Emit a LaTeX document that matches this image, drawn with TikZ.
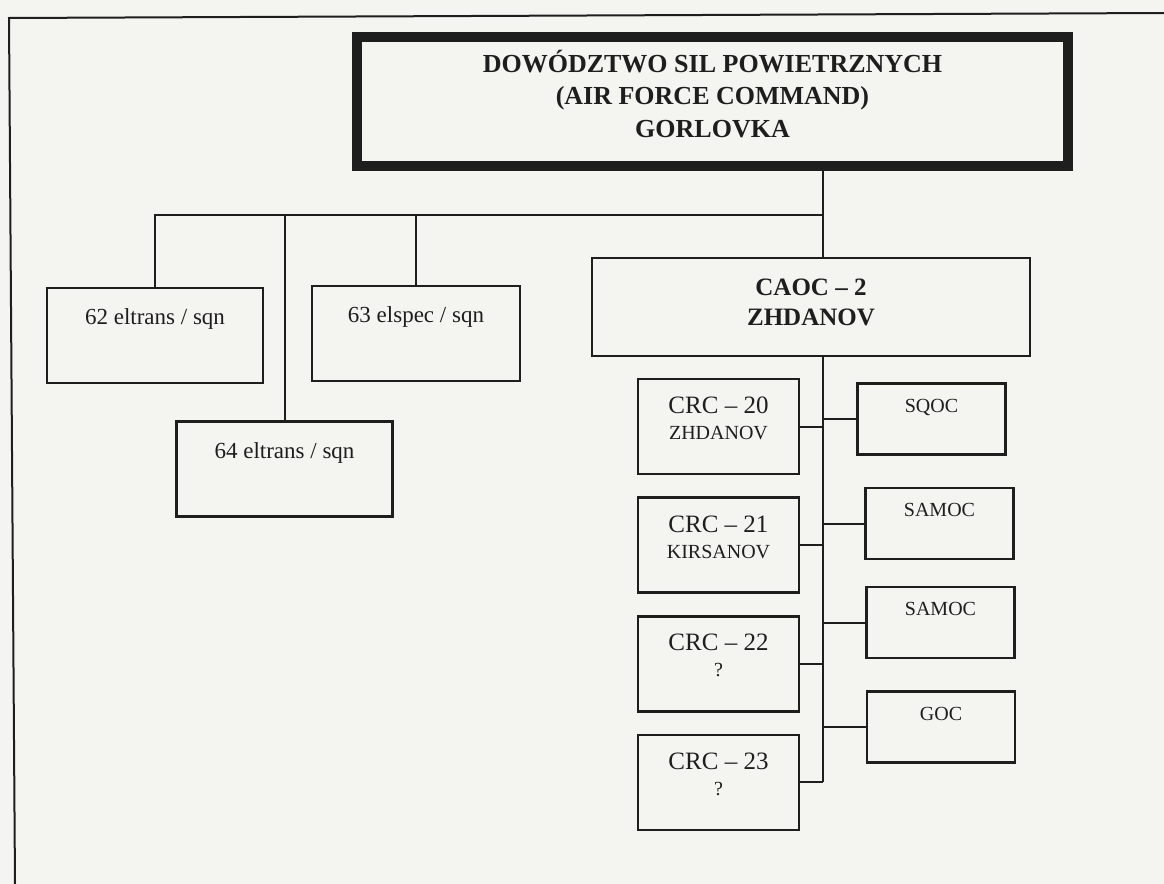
\documentclass[tikz,border=0pt]{standalone}
\usepackage{fontspec}
\setmainfont{Liberation Serif}
\usetikzlibrary{positioning}
\definecolor{paper}{RGB}{244,244,241}
\definecolor{ink}{RGB}{30,30,30}

\begin{document}
\begin{tikzpicture}[x=0.5pt, y=-0.5pt, node distance=10.5pt]

    \tikzstyle{command} = [rectangle, draw=ink, text=ink, line width=5pt, minimum width=355.5pt, minimum height=64.5pt, align=center, text height=41.5pt, text depth=6pt, font=\fontsize{13}{16.25}\selectfont\bfseries]
    \tikzstyle{centre} = [rectangle, draw=ink, text=ink, line width=1.3pt, minimum width=219pt, minimum height=49pt, align=center, text height=23.5pt, text depth=5pt, font=\fontsize{12.5}{15}\selectfont\bfseries]
    \tikzstyle{squadron} = [rectangle, draw=ink, text=ink, line width=1.3pt, minimum width=108pt, minimum height=47.5pt, text height=8pt, text depth=19pt, font=\fontsize{11.5}{13}\selectfont]
    \tikzstyle{crc} = [rectangle, draw=ink, text=ink, line width=1.3pt, minimum width=80.5pt, minimum height=47.5pt, align=center, text height=21.5pt, text depth=8.5pt, font=\fontsize{12.5}{13}\selectfont]
    \tikzstyle{ops} = [rectangle, draw=ink, text=ink, line width=1.3pt, minimum width=74pt, minimum height=35.5pt, text height=7pt, text depth=14pt, font=\fontsize{10}{12}\selectfont]
    \tikzstyle{link} = [draw=ink, line width=1pt]
    \tikzstyle{frame} = [draw=ink, line width=1pt]

    \useasboundingbox (0,0) rectangle (1164,884);
    \fill[paper] (0,0) rectangle (1164,884);
    \draw[frame] (1164,13) -- (9,18) -- (15,884);

    \node (hq) [command] at (712.5,101.5) {DOWÓDZTWO SIL POWIETRZNYCH \\ (AIR FORCE COMMAND) \\ GORLOVKA};

    \node (sq62) [squadron] at (155,335.5) {62 eltrans / sqn};
    \node (sq63) [squadron, minimum width=104pt] at (416,333.5) {63 elspec / sqn};
    \node (sq64) [squadron] at (284.5,469) {64 eltrans / sqn};

    \node (caoc) [centre] at (811,307) {CAOC – 2 \\ ZHDANOV};

    \node (crc20) [crc] at (718.5,426.5) {CRC – 20 \\ {\fontsize{10}{12}\selectfont ZHDANOV}};
    \node (crc21) [crc, below=of crc20] {CRC – 21 \\ {\fontsize{10}{12}\selectfont KIRSANOV}};
    \node (crc22) [crc, below=of crc21] {CRC – 22 \\ {\fontsize{10}{12}\selectfont ?}};
    \node (crc23) [crc, below=of crc22] {CRC – 23 \\ {\fontsize{10}{12}\selectfont ?}};

    \node (sqoc) [ops] at (931.5,419) {SQOC};
    \node (samoc1) [ops] at (939.5,523.5) {SAMOC};
    \node (samoc2) [ops] at (940.5,622.5) {SAMOC};
    \node (goc) [ops] at (941,727) {GOC};

    % command links
    \coordinate (bus) at (823,215);
    \draw[link] (hq.south -| bus) -- (caoc.north -| bus);
    \draw[link] (sq62.north) |- (bus);
    \draw[link] (sq63.north) -- (sq63.north |- bus);
    \draw[link] (sq64.north) -- (sq64.north |- bus);

    % CAOC trunk
    \draw[link] (caoc.south -| bus) -- (crc23.east -| bus);
    \draw[link] (crc20.east) -- (crc20.east -| bus);
    \draw[link] (crc21.east) -- (crc21.east -| bus);
    \draw[link] (crc22.east) -- (crc22.east -| bus);
    \draw[link] (crc23.east) -- (crc23.east -| bus);
    \draw[link] (sqoc.west) -- (sqoc.west -| bus);
    \draw[link] (samoc1.west) -- (samoc1.west -| bus);
    \draw[link] (samoc2.west) -- (samoc2.west -| bus);
    \draw[link] (goc.west) -- (goc.west -| bus);

\end{tikzpicture}
\end{document}
